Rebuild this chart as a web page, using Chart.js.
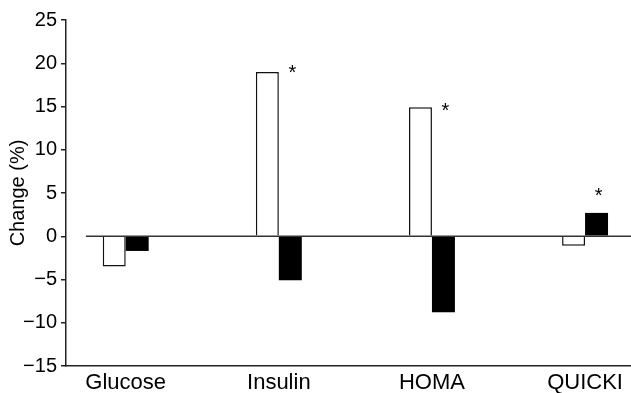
<!DOCTYPE html>
<html lang="en">
<head>
  <meta charset="UTF-8">
  <title>Change (%)</title>
  <script src="https://cdn.jsdelivr.net/npm/chart.js"></script>
  <style>
    body { margin: 0; background: #fff; }
    #wrap { width: 631px; height: 393px; }
  </style>
</head>
<body>
  <div id="wrap"><canvas id="changeChart"></canvas></div>

  <script>
    const categories = ['Glucose', 'Insulin', 'HOMA', 'QUICKI'];
    const openBars = [-3.5, 19.0, 14.9, -1.1];
    const filledBars = [-1.7, -5.1, -8.8, 2.7];
    // asterisk heights (% units), null = no mark
    const starLevels = [null, 19.2, 14.8, 5.0];
    const yTicks = [-15, -10, -5, 0, 5, 10, 15, 20, 25];

    const font = '"Liberation Sans", Arial, Helvetica, sans-serif';

    // zero reference line and significance stars
    const extras = {
      id: 'extras',
      afterDatasetsDraw(chart) {
        const ctx = chart.ctx;
        const xs = chart.scales.x, ys = chart.scales.y;
        const y0 = ys.getPixelForValue(0);
        ctx.save();
        ctx.strokeStyle = '#333';
        ctx.lineWidth = 1.5;
        ctx.beginPath();
        ctx.moveTo(xs.getPixelForValue(-0.26), y0);
        ctx.lineTo(chart.chartArea.right, y0);
        ctx.stroke();

        const meta = chart.getDatasetMeta(1);
        ctx.fillStyle = '#000';
        ctx.font = '20px ' + font;
        ctx.textAlign = 'center';
        ctx.textBaseline = 'middle';
        starLevels.forEach((lv, i) => {
          if (lv === null) return;
          ctx.fillText('*', meta.data[i].x + 2, ys.getPixelForValue(lv) + 3);
        });
        ctx.restore();
      }
    };

    const ctx = document.getElementById('changeChart').getContext('2d');
    new Chart(ctx, {
      type: 'bar',
      data: {
        datasets: [
          {
            data: categories.map((c, i) => ({ x: i, y: openBars[i] })),
            backgroundColor: '#fff',
            borderColor: '#111',
            borderWidth: 1.5,
            categoryPercentage: 0.3,
            barPercentage: 1.0
          },
          {
            data: categories.map((c, i) => ({ x: i, y: filledBars[i] })),
            backgroundColor: '#000',
            borderColor: '#000',
            borderWidth: 0,
            categoryPercentage: 0.3,
            barPercentage: 1.0
          }
        ]
      },
      options: {
        responsive: true,
        maintainAspectRatio: false,
        animation: false,
        layout: { padding: { top: 20, right: 0, left: 0, bottom: 0 } },
        plugins: { legend: { display: false }, tooltip: { enabled: false } },
        scales: {
          x: {
            type: 'linear',
            offset: false,
            min: -0.39,
            max: 3.3,
            afterBuildTicks: (s) => { s.ticks = categories.map((c, i) => ({ value: i })); },
            afterFit: (s) => { s.height = 27; },
            grid: { display: false, drawTicks: false, offset: false },
            border: { display: true, color: '#222', width: 1.5 },
            ticks: {
              color: '#000',
              font: { family: font, size: 22 },
              padding: 4,
              maxRotation: 0,
              autoSkip: false,
              callback: (v) => categories[v]
            }
          },
          y: {
            min: -15,
            max: 25,
            afterBuildTicks: (s) => { s.ticks = yTicks.map(v => ({ value: v })); },
            afterFit: (s) => { s.width = 66; },
            grid: { display: true, drawOnChartArea: false, drawTicks: true, tickLength: 5, color: '#222', lineWidth: 1.5 },
            border: { display: true, color: '#222', width: 1.5 },
            title: {
              display: true,
              text: 'Change (%)',
              color: '#000',
              font: { family: font, size: 20 },
              padding: { top: 6, bottom: 0 }
            },
            ticks: {
              color: '#000',
              font: { family: font, size: 20 },
              padding: 4,
              callback: (v) => (v < 0 ? '\u2212' + Math.abs(v) : String(v))
            }
          }
        }
      },
      plugins: [extras]
    });
  </script>
</body>
</html>
